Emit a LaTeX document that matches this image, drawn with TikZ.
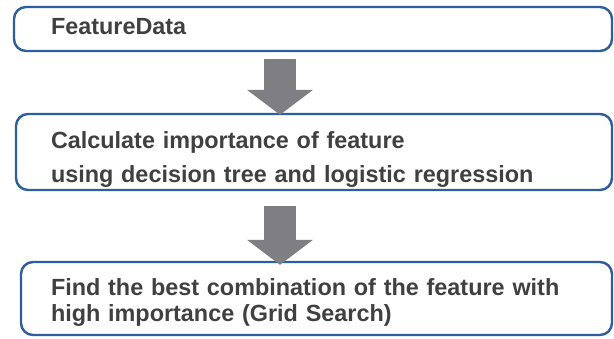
\documentclass[tikz,border=0pt]{standalone}
\usepackage{fontspec}
\usepackage{xcolor}
\usepackage{tikz}
\usetikzlibrary{positioning, arrows.meta, calc}
\newfontfamily\flowfont{Liberation Sans}
\definecolor{boxborder}{RGB}{46,93,160}
\definecolor{labelcolor}{RGB}{64,64,64}
\definecolor{arrowcolor}{RGB}{127,127,131}

\begin{document}
\begin{tikzpicture}[
    x=1pt, y=1pt,
    font=\flowfont\bfseries\fontsize{23.4}{26}\selectfont,
    bigarrow/.style={-{Triangle[width=66pt, length=25pt, line width=0pt]}, line width=32pt, draw=arrowcolor},
    flowbox/.style={
        rectangle,
        rounded corners=12pt,
        draw=boxborder,
        line width=2.4pt,
        fill=white,
        text=labelcolor,
        align=left,
        inner ysep=1pt
    }
]
\useasboundingbox (0,0) rectangle (614,-338);

% arrow axis
\coordinate (axis) at (280,0);

%% BOXES %%
\node (featuredata) [flowbox, anchor=north west, minimum width=598pt, minimum height=44pt,
    text width=524pt, inner xsep=37pt, text depth=6pt] at (12.8,-5.8) {FeatureData};

\node (importance) [flowbox, below right=60.6pt and 2pt of featuredata.south west,
    minimum width=596pt, minimum height=76pt,
    text width=526pt, inner xsep=35pt, text height=31pt] {
    Calculate importance of feature\\[8pt]
    using decision tree and logistic regression
};

\node (gridsearch) [flowbox, below right=69.6pt and 5pt of importance.south west,
    minimum width=591pt, minimum height=73pt,
    text width=531pt, inner xsep=30pt, text height=25pt] {
    Find the best combination of the feature with\\
    high importance (Grid Search)
};

%% ARROWS %%
\draw [bigarrow] ($(featuredata.south -| axis)+(0,-7)$) -- ($(importance.north -| axis)+(0,-2)$);
\draw [bigarrow] ($(importance.south -| axis)+(0,-15)$) -- ($(gridsearch.north -| axis)+(0,-4)$);

\end{tikzpicture}
\end{document}
